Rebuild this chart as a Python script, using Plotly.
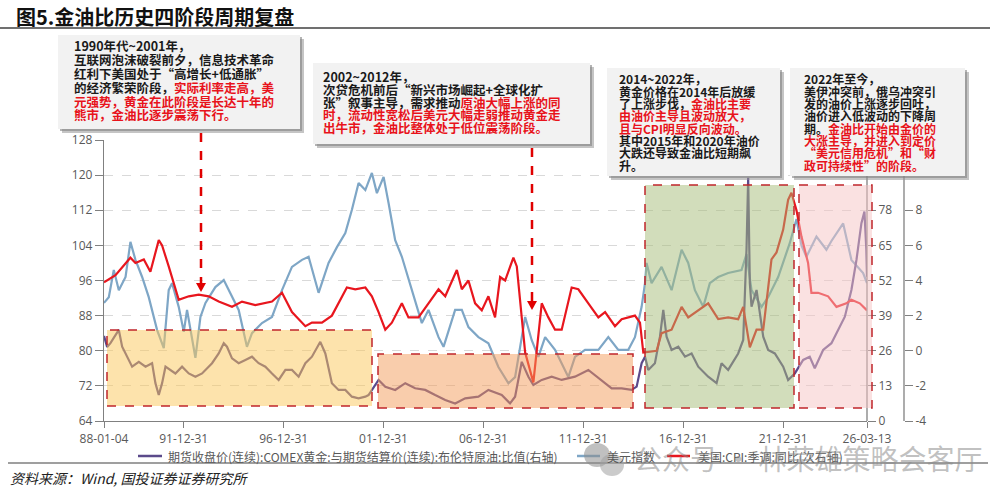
import plotly.graph_objects as go

# ---------------- data ----------------
ratio_dates = ["1988-01-04", "1988-03", "1988-05", "1988-10", "1988-12", "1989-04", "1989-06", "1989-10",
               "1990-02", "1990-06", "1990-08", "1990-10", "1990-12", "1991-02", "1991-08", "1991-12",
               "1992-04", "1992-08", "1992-12", "1993-06", "1993-10", "1994-01", "1994-03", "1994-06",
               "1994-10", "1995-02", "1995-06", "1995-10", "1996-02", "1996-06", "1996-10", "1997-02",
               "1997-06", "1997-10", "1998-02", "1998-06", "1998-11", "1999-02", "1999-06", "1999-10",
               "2000-02", "2000-06", "2000-10", "2001-02", "2001-04", "2001-10", "2002-02", "2002-08",
               "2003-02", "2003-08", "2004-02", "2004-08", "2005-02", "2005-08", "2006-02", "2006-10",
               "2007-04", "2007-12", "2008-05", "2008-08", "2008-12", "2009-04", "2009-07", "2009-12",
               "2010-06", "2010-12", "2011-08", "2012-04", "2012-12", "2013-06", "2013-12", "2014-06",
               "2014-09", "2014-12", "2015-02", "2015-04", "2015-08", "2015-11", "2016-01", "2016-03",
               "2016-06", "2016-10", "2017-02", "2017-06", "2017-10", "2018-04", "2018-09", "2018-12",
               "2019-04", "2019-10", "2020-01", "2020-03", "2020-04", "2020-05", "2020-06", "2020-09",
               "2021-01", "2021-04", "2021-08", "2022-01", "2022-04", "2022-08", "2023-01", "2023-05",
               "2023-08", "2024-01", "2024-06", "2024-10", "2025-02", "2025-06", "2025-09", "2025-12",
               "2026-01-25", "2026-03-01", "2026-03-13"]
ratio_values = [31.5, 27.4, 28.8, 33.7, 27.5, 22.6, 20.1, 21.9,
                20.1, 21.4, 14.0, 9.6, 14.0, 20.1, 17.6, 20.1,
                17.6, 16.4, 17.6, 21.4, 25.0, 28.8, 27.5, 23.2,
                21.4, 22.6, 23.8, 21.4, 20.1, 17.6, 15.2, 18.9,
                18.9, 16.4, 21.4, 23.8, 29.3, 25.0, 14.0, 11.5,
                11.5, 9.0, 8.4, 9.0, 9.6, 15.2, 12.7, 11.5,
                14.0, 12.1, 11.5, 9.6, 7.8, 6.5, 8.4, 9.0,
                11.5, 9.6, 6.5, 9.0, 21.9, 16.4, 13.3, 15.2,
                16.4, 15.2, 16.4, 18.9, 15.2, 12.1, 12.1, 11.5,
                12.7, 21.4, 23.8, 18.9, 21.4, 31.2, 41.1, 31.2,
                26.3, 27.5, 23.8, 25.0, 20.1, 16.4, 14.0, 21.4,
                18.9, 25.0, 30.0, 63.3, 90.0, 51.0, 42.3, 48.5,
                31.2, 26.3, 25.0, 20.1, 15.2, 17.6, 22.6, 23.8,
                19.5, 26.3, 28.8, 33.7, 38.6, 48.5, 59.6, 73.2,
                77.5, 63.3, 53.4]

dxy_dates = ["1988-01-04", "1988-04", "1988-07", "1988-10", "1989-02", "1989-05", "1989-08", "1989-12",
             "1990-04", "1990-09", "1991-01", "1991-04", "1991-06", "1991-10", "1992-01", "1992-03",
             "1992-08", "1992-11", "1993-02", "1993-08", "1994-01", "1994-06", "1994-10", "1995-03",
             "1995-06", "1995-12", "1996-06", "1996-12", "1997-06", "1997-12", "1998-04", "1998-10",
             "1999-04", "1999-09", "2000-02", "2000-06", "2000-10", "2001-02", "2001-06", "2001-09",
             "2002-01", "2002-04", "2002-08", "2002-12", "2003-06", "2003-12", "2004-04", "2004-10",
             "2005-01", "2005-04", "2005-08", "2005-12", "2006-04", "2006-10", "2007-04", "2007-10",
             "2008-04", "2008-08", "2009-02", "2009-06", "2009-10", "2010-02", "2010-08", "2011-04",
             "2011-08", "2012-02", "2012-10", "2013-04", "2013-10", "2014-04", "2014-08", "2014-12",
             "2015-02", "2015-03", "2015-06", "2015-12", "2016-06", "2016-12", "2017-04", "2017-08",
             "2018-01", "2018-05", "2018-10", "2019-04", "2019-12", "2020-03", "2020-06", "2020-12",
             "2021-04", "2021-10", "2022-05", "2022-09", "2022-12", "2023-03", "2023-09", "2024-03",
             "2024-06", "2025-01", "2025-06", "2026-01", "2026-03-13"]
dxy_values = [90.9, 92.2, 98.4, 93.8, 96.8, 104.8, 100.7, 96.8,
              92.2, 84.7, 80.6, 93.8, 95.4, 90.0, 84.3, 89.3,
              78.4, 87.7, 90.9, 94.5, 96.1, 92.2, 89.3, 80.9,
              84.0, 86.3, 87.7, 93.8, 99.1, 100.7, 101.4, 93.2,
              100.0, 103.6, 106.8, 112.1, 118.2, 116.6, 120.5, 115.9,
              119.6, 113.7, 105.2, 101.4, 93.8, 86.3, 89.3, 83.1,
              80.9, 84.7, 89.3, 89.3, 85.4, 83.1, 81.7, 76.3,
              72.6, 74.0, 87.7, 82.4, 78.6, 83.1, 80.2, 74.0,
              78.6, 80.2, 80.2, 83.1, 80.2, 80.2, 83.1, 90.0,
              95.4, 100.0, 95.4, 99.1, 93.8, 103.0, 100.0, 93.8,
              90.0, 95.4, 96.8, 97.7, 98.4, 102.0, 93.8, 90.0,
              92.2, 96.8, 104.5, 110.0, 104.0, 101.4, 106.0, 103.0,
              105.0, 109.0, 100.7, 97.7, 95.4]

cpi_dates = ["1988-01-04", "1988-08", "1989-05", "1989-08", "1990-01", "1990-05", "1990-10", "1990-12",
             "1991-04", "1991-10", "1992-04", "1992-10", "1993-04", "1993-10", "1994-06", "1994-12",
             "1995-08", "1996-06", "1996-12", "1997-06", "1998-02", "1998-06", "1998-12", "1999-06",
             "2000-03", "2000-08", "2001-02", "2001-06", "2001-10", "2002-02", "2002-06", "2002-12",
             "2003-04", "2003-10", "2004-04", "2004-10", "2005-02", "2005-09", "2005-12", "2006-04",
             "2006-08", "2006-12", "2007-04", "2007-08", "2007-11", "2008-02", "2008-07", "2008-09",
             "2009-02", "2009-07", "2009-12", "2010-04", "2010-08", "2010-12", "2011-06", "2011-10",
             "2012-04", "2012-10", "2013-02", "2013-08", "2013-12", "2014-04", "2014-08", "2014-11",
             "2015-01", "2015-09", "2015-12", "2016-06", "2016-12", "2017-04", "2017-10", "2018-04",
             "2018-10", "2019-04", "2019-10", "2020-01", "2020-05", "2020-09", "2021-01", "2021-06",
             "2021-09", "2022-01", "2022-04", "2022-06", "2022-09", "2022-12", "2023-04", "2023-06",
             "2023-10", "2024-04", "2024-09", "2025-03", "2025-06", "2025-11", "2026-03-13"]
cpi_values = [3.9, 4.3, 5.3, 5.0, 5.2, 4.5, 6.3, 6.0,
              4.8, 2.9, 3.1, 3.2, 3.1, 2.8, 2.5, 2.8,
              2.6, 2.8, 3.3, 2.2, 1.4, 1.6, 1.6, 2.0,
              3.6, 3.5, 3.6, 3.1, 2.2, 1.2, 1.6, 2.7,
              1.9, 1.9, 2.7, 3.5, 3.1, 4.6, 3.5, 4.0,
              2.7, 2.3, 3.1, 1.9, 4.2, 4.0, 5.3, 4.8,
              -0.1, -1.8, 2.7, 1.9, 1.2, 1.2, 3.6, 3.5,
              2.7, 1.9, 2.2, 1.4, 1.8, 1.9, 2.0, 1.6,
              -0.1, 0.0, 1.0, 1.2, 2.5, 1.9, 2.3, 2.7,
              1.8, 1.9, 1.8, 2.5, 0.2, 1.2, 1.2, 5.2,
              5.6, 6.9, 8.6, 9.0, 8.0, 6.5, 5.0, 3.3,
              3.3, 3.1, 2.5, 2.7, 2.9, 2.7, 2.3]

x_tick_vals = ["1988-01-04", "1991-12-31", "1996-12-31", "2001-12-31", "2006-12-31",
               "2011-12-31", "2016-12-31", "2021-12-31", "2026-03-13"]
x_tick_text = ["88-01-04", "91-12-31", "96-12-31", "01-12-31", "06-12-31",
               "11-12-31", "16-12-31", "21-12-31", "26-03-13"]
left_ticks = [64, 72, 80, 88, 96, 104, 112, 120, 128]
ratio_ticks = [0, 13, 26, 39, 52, 65, 78]      # 91 / 104 sit under the text box
cpi_ticks = [-4, -2, 0, 2, 4, 6, 8]           # 10 / 12 sit under the text box

series_names = ["期货收盘价(连续):COMEX黄金:与期货结算价(连续):布伦特原油:比值(右轴)",
                "美元指数", "美国:CPI:季调:同比(次右轴)"]

title_text = "图5.金油比历史四阶段周期复盘"
source_text = "资料来源：Wind, 国投证券证券研究所"
watermark_text = "公众号 · 林荣雄策略会客厅"

# each line: (black part, red part)
box_texts = [
    [("1990年代~2001年，", ""),
     ("互联网泡沫破裂前夕，信息技术革命", ""),
     ("红利下美国处于“高增长+低通胀”", ""),
     ("的经济繁荣阶段，", "实际利率走高，美"),
     ("", "元强势，黄金在此阶段是长达十年的"),
     ("", "熊市，金油比逐步震荡下行。")],
    [("2002~2012年，", ""),
     ("次贷危机前后“新兴市场崛起+全球化扩", ""),
     ("张”叙事主导，需求推动", "原油大幅上涨的同"),
     ("", "时，流动性宽松后美元大幅走弱推动黄金走"),
     ("", "出牛市，金油比整体处于低位震荡阶段。")],
    [("2014~2022年，", ""),
     ("黄金价格在2014年后放缓", ""),
     ("了上涨步伐，", "金油比主要"),
     ("", "由油价主导且波动放大，"),
     ("", "且与CPI明显反向波动。"),
     ("其中2015年和2020年油价", ""),
     ("大跌还导致金油比短期飙", ""),
     ("升。", "")],
    [("2022年至今，", ""),
     ("美伊冲突前，俄乌冲突引", ""),
     ("发的油价上涨逐步回吐，", ""),
     ("油价进入低波动的下降周", ""),
     ("期。", "金油比开始由金价的"),
     ("", "大涨主导，并进入到定价"),
     ("", "“美元信用危机”和“财"),
     ("", "政可持续性”的阶段。")],
]

# ---------------- styling / layout ----------------
C_RATIO = "#5B4A8B"
C_DXY = "#7EA6C6"
C_CPI = "#E8161E"
RED_TXT = "#E8131B"
AX = "#808080"
TXT = "#595959"
CJK = "Noto Sans CJK SC"

W, H = 999, 494
ML, MR, MT, MB = 104, 60, 140, 73
PW = W - ML - MR
PH = H - MT - MB


def px(x):
    return (x - ML) / PW


def py(y):
    return (H - MB - y) / PH


fig = go.Figure()
fig.add_trace(go.Scatter(x=dxy_dates, y=dxy_values, mode="lines", yaxis="y",
                         line=dict(color=C_DXY, width=2.2), showlegend=False, name=series_names[1]))
fig.add_trace(go.Scatter(x=ratio_dates, y=ratio_values, mode="lines", yaxis="y2",
                         line=dict(color=C_RATIO, width=2.2), showlegend=False, name=series_names[0]))
fig.add_trace(go.Scatter(x=cpi_dates, y=cpi_values, mode="lines", yaxis="y3",
                         line=dict(color=C_CPI, width=2.2), showlegend=False, name=series_names[2]))

shapes = []
annotations = []


def rect(x0, y0, x1, y1, fill, line=None, dash=None, lw=0):
    d = dict(type="rect", xref="paper", yref="paper", x0=px(x0), x1=px(x1), y0=py(y1), y1=py(y0),
             fillcolor=fill, layer="above")
    if line:
        d["line"] = dict(color=line, width=lw, dash=dash or "solid")
    else:
        d["line"] = dict(width=0)
    shapes.append(d)


def seg(x0, y0, x1, y1, color, w, dash="solid"):
    shapes.append(dict(type="line", xref="paper", yref="paper", x0=px(x0), x1=px(x1), y0=py(y0), y1=py(y1),
                       line=dict(color=color, width=w, dash=dash), layer="above"))


# right axis lines (upper part hidden under the 2022 text box)
seg(867, 176, 867, 421, AX, 1.3)
seg(904, 176, 904, 421, AX, 1.3)

# stage regions (semi-transparent overlays)
regions = [((107, 330, 372, 406), "rgba(251,200,90,0.5)"),
           ((378, 354, 633, 408), "rgba(243,156,90,0.5)"),
           ((645, 185, 794, 408), "rgba(165,187,119,0.5)"),
           ((799, 185, 872, 408), "rgba(245,195,195,0.5)")]
for (x0, y0, x1, y1), fc in regions:
    rect(x0, y0, x1, y1, fc, line="#C0262B", dash="dash", lw=1.5)

# text boxes with shadow
tboxes = [(58, 35, 300, 129), (313, 63, 590, 144), (607, 68, 780, 176), (790, 68, 965, 176)]
for x0, y0, x1, y1 in tboxes:
    rect(x0 + 4, y0 + 4, x1 + 4, y1 + 4, "rgba(150,150,150,0.55)")
    rect(x0 + 2, y0 + 2, x1 + 2, y1 + 2, "rgba(130,130,130,0.6)")
    rect(x0, y0, x1, y1, "#F2F2F2")

# dashed red arrows
for ax_, ytop, ytip in [(201, 133, 292), (532, 148, 310)]:
    seg(ax_, ytop, ax_, ytip - 8, "#E00000", 2.5, "dash")
    shapes.append(dict(type="path", xref="paper", yref="paper", layer="above",
                       path=f"M {px(ax_ - 5)},{py(ytip - 9)} L {px(ax_ + 5)},{py(ytip - 9)} L {px(ax_)},{py(ytip)} Z",
                       fillcolor="#E00000", line=dict(width=0)))

# rules
seg(0, 28, 990, 28, "#404040", 1.5)
seg(8, 463, 988, 463, "#404040", 1.2)

# legend samples
for (x0, x1), col in zip([(138, 162), (577, 600), (667, 690)], [C_RATIO, C_DXY, C_CPI]):
    seg(x0, 456, x1, 456, col, 2.5)
for xt, name in zip([166, 605, 696], series_names):
    annotations.append(dict(x=px(xt), y=py(456), xref="paper", yref="paper", text=name, showarrow=False,
                            xanchor="left", yanchor="middle", font=dict(size=12, color=TXT, family=CJK)))

# watermark
shapes.append(dict(type="circle", xref="paper", yref="paper", x0=px(584), x1=px(610), y0=py(467), y1=py(443),
                   fillcolor="rgba(140,140,140,0.55)", line=dict(width=0), layer="above"))
shapes.append(dict(type="circle", xref="paper", yref="paper", x0=px(600), x1=px(624), y0=py(476), y1=py(454),
                   fillcolor="rgba(160,160,160,0.55)", line=dict(width=0), layer="above"))
annotations.append(dict(x=px(632), y=py(458), xref="paper", yref="paper", text=watermark_text, showarrow=False,
                        xanchor="left", yanchor="middle",
                        font=dict(size=28, color="rgba(140,140,140,0.55)", family=CJK)))

# title & source
annotations.append(dict(x=px(14), y=py(17), xref="paper", yref="paper", text=f"<b>{title_text}</b>",
                        showarrow=False, xanchor="left", yanchor="middle",
                        font=dict(size=20, color="#111111", family=CJK)))
annotations.append(dict(x=px(8), y=py(478), xref="paper", yref="paper", text=f"<i>{source_text}</i>",
                        showarrow=False, xanchor="left", yanchor="middle",
                        font=dict(size=14, color="#222222", family=CJK)))

# box text lines: (left x, first line centre y, line step, font size)
line_layout = [(72, 46, 13.8, 12.5), (321, 76, 13.0, 12.5), (617, 79, 12.3, 12), (802, 79, 12.3, 12)]
for (x0, y0, step, fs), lines in zip(line_layout, box_texts):
    for i, (blk, red) in enumerate(lines):
        t = blk
        if red:
            t += f"<span style='color:{RED_TXT}'>{red}</span>"
        annotations.append(dict(x=px(x0), y=py(y0 + i * step), xref="paper", yref="paper", text=f"<b>{t}</b>",
                                showarrow=False, xanchor="left", yanchor="middle",
                                font=dict(size=fs, color="#1A1A1A", family=CJK)))

xd = (867 - ML) / PW
tickfont = dict(size=12, color=TXT, family="Open Sans")

fig.update_layout(
    width=W, height=H, margin=dict(l=ML, r=MR, t=MT, b=MB, autoexpand=False),
    paper_bgcolor="white", plot_bgcolor="white", showlegend=False,
    xaxis=dict(domain=[0, xd], type="date", range=["1988-01-04", "2026-03-13"], tickmode="array",
               tickvals=x_tick_vals, ticktext=x_tick_text, showgrid=False, ticks="outside", ticklen=6,
               tickcolor=AX, showline=True, linecolor=AX, linewidth=1.3, tickfont=tickfont),
    yaxis=dict(range=[64, 128], tickmode="array", tickvals=left_ticks, ticktext=[str(v) for v in left_ticks],
               showgrid=True, gridcolor="#D9D9D9", griddash="dash", gridwidth=1, ticks="outside", ticklen=8,
               tickcolor=AX, showline=True, linecolor=AX, linewidth=1.3, zeroline=False, tickfont=tickfont),
    yaxis2=dict(range=[0, 104], overlaying="y", side="right", anchor="x", tickmode="array",
                tickvals=ratio_ticks, ticktext=[str(v) for v in ratio_ticks], showgrid=False, showline=False,
                ticks="outside", ticklen=8, tickcolor=AX, zeroline=False, tickfont=tickfont),
    yaxis3=dict(range=[-4, 12], overlaying="y", side="right", anchor="free", position=(904 - ML) / PW,
                tickmode="array", tickvals=cpi_ticks, ticktext=[str(v) for v in cpi_ticks],
                showgrid=False, showline=False, ticks="outside", ticklen=8, tickcolor=AX, zeroline=False,
                tickfont=tickfont),
    shapes=shapes, annotations=annotations,
)

fig.write_html("out.html")
